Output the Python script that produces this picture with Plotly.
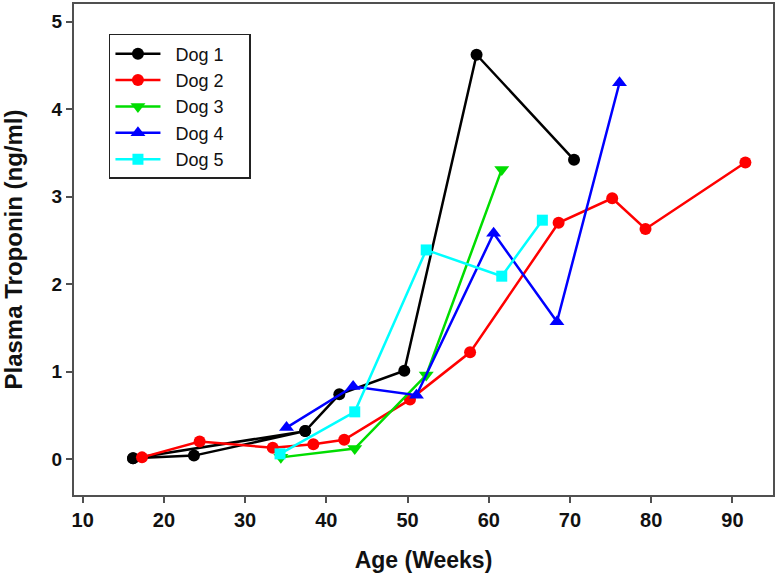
import plotly.graph_objects as go

# Data (age in weeks, plasma troponin ng/ml)
dog1_x = [16.2, 23.7, 37.4, 16.2, 37.4, 41.6, 49.6, 58.5, 70.5]
dog1_y = [0.01, 0.04, 0.32, 0.01, 0.32, 0.74, 1.01, 4.62, 3.42]
dog2_x = [17.3, 24.4, 33.4, 38.4, 42.2, 50.3, 57.7, 68.6, 75.2, 79.3, 91.6]
dog2_y = [0.02, 0.20, 0.13, 0.17, 0.22, 0.68, 1.22, 2.70, 2.98, 2.63, 3.39]
dog3_x = [34.4, 43.5, 52.3, 61.6]
dog3_y = [0.02, 0.12, 0.96, 3.31]
dog4_x = [35.1, 43.3, 51.1, 60.6, 68.4, 76.1]
dog4_y = [0.36, 0.83, 0.73, 2.58, 1.57, 4.30]
dog5_x = [34.3, 43.5, 52.3, 61.6, 66.6]
dog5_y = [0.06, 0.54, 2.39, 2.09, 2.73]

names = ["Dog 1", "Dog 2", "Dog 3", "Dog 4", "Dog 5"]
xs = [dog1_x, dog2_x, dog3_x, dog4_x, dog5_x]
ys = [dog1_y, dog2_y, dog3_y, dog4_y, dog5_y]
colors = ["#000000", "#ff0000", "#00dd00", "#0000ff", "#00ffff"]
symbols = ["circle", "circle", "triangle-down", "triangle-up", "square"]
sizes = [12, 12, 13, 13, 11]

x_ticks = [10, 20, 30, 40, 50, 60, 70, 80, 90]
y_ticks = [0, 1, 2, 3, 4, 5]

fig = go.Figure()
for n, x, y, c, s, sz in zip(names, xs, ys, colors, symbols, sizes):
    fig.add_trace(go.Scatter(
        x=x, y=y, name="\u00a0\u00a0" + n + "\u00a0" * 4, mode="lines+markers",
        line=dict(color=c, width=2.5),
        marker=dict(symbol=s, size=sz, color=c, line=dict(width=0)),
    ))

axis_common = dict(
    showline=True, linecolor="#505050", linewidth=2, mirror=True,
    ticks="outside", ticklen=6, tickwidth=2, tickcolor="#505050",
    showgrid=False, zeroline=False, automargin=False,
)

fig.update_layout(
    width=777, height=576,
    margin=dict(l=74, r=4, t=4, b=81),
    plot_bgcolor="white", paper_bgcolor="white",
    font=dict(family="Arial, Liberation Sans, sans-serif", color="#111111"),
    xaxis=dict(
        range=[8.93, 95], tickmode="array", tickvals=x_ticks,
        ticktext=["<b>%d</b>" % v for v in x_ticks],
        tickfont=dict(size=20),
        title=dict(text="<b>Age (Weeks)</b>", font=dict(size=23), standoff=22),
        **axis_common,
    ),
    yaxis=dict(
        range=[-0.41, 5.2], tickmode="array", tickvals=y_ticks,
        ticktext=["<b>%d</b>" % v for v in y_ticks],
        tickfont=dict(size=19),
        title=dict(text="<b>Plasma Troponin (ng/ml)</b>", font=dict(size=24), standoff=31),
        **axis_common,
    ),
    legend=dict(
        x=0.05, y=0.939, xanchor="left", yanchor="top",
        bordercolor="#222222", borderwidth=1.5, bgcolor="white",
        font=dict(size=18), tracegroupgap=0, itemwidth=45,
    ),
)

fig.write_html(
    "out.html",
    config={"displayModeBar": False},
    post_script="document.body.style.margin='0';document.body.style.overflow='hidden';",
)
